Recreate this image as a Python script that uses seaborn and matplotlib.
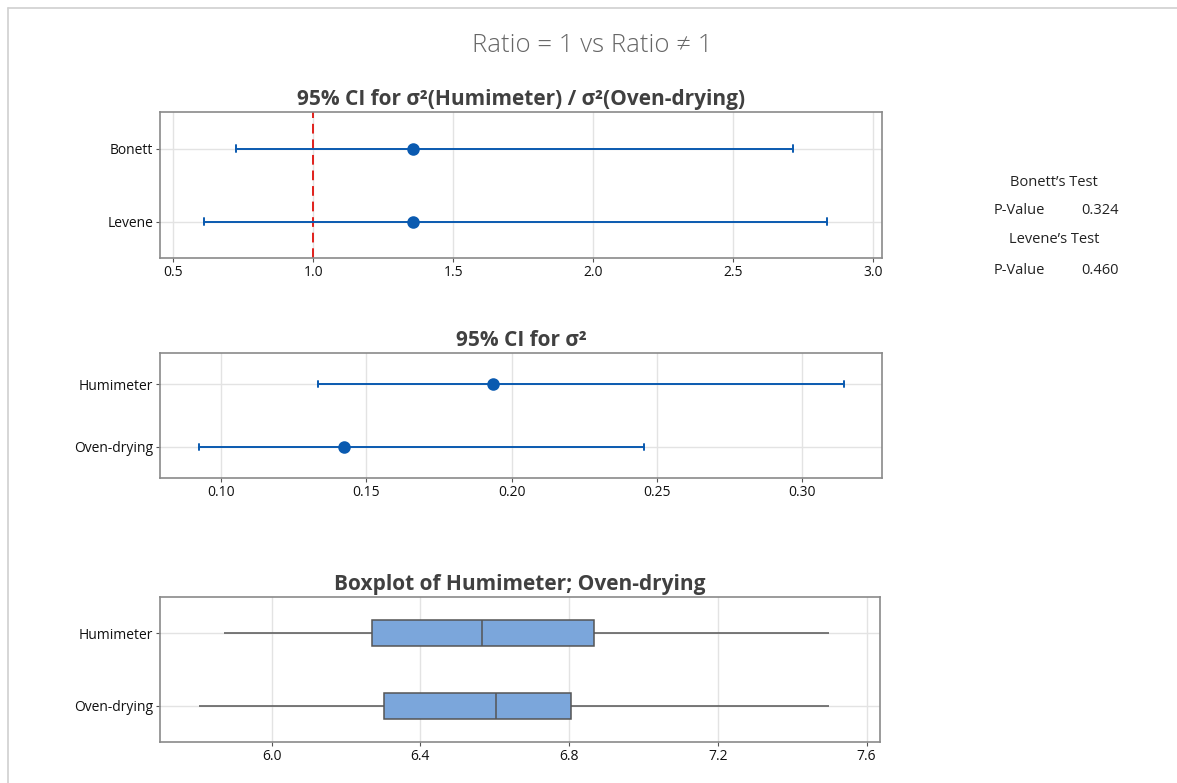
import numpy as np
import pandas as pd
import matplotlib
matplotlib.use("Agg")
import matplotlib.pyplot as plt
import seaborn as sns
from matplotlib.lines import Line2D

# ---------------- data ----------------
ratio_methods = ["Bonett", "Levene"]
ratio_lower = [0.723, 0.608]
ratio_est = [1.358, 1.358]
ratio_upper = [2.715, 2.835]

var_groups = ["Humimeter", "Oven-drying"]
var_lower = [0.1336, 0.0926]
var_est = [0.1937, 0.1425]
var_upper = [0.3144, 0.2455]

box_groups = ["Humimeter", "Oven-drying"]
box_min = [5.873, 5.806]
box_q1 = [6.269, 6.302]
box_median = [6.567, 6.604]
box_q3 = [6.866, 6.804]
box_max = [7.500, 7.500]

ratio_ticks = [0.5, 1.0, 1.5, 2.0, 2.5, 3.0]
var_ticks = [0.10, 0.15, 0.20, 0.25, 0.30]
box_ticks = [6.0, 6.4, 6.8, 7.2, 7.6]

bonett_p = 0.324
levene_p = 0.460

main_title = "Ratio = 1 vs Ratio \u2260 1"
title1 = "95% CI for \u03c3\u00b2(Humimeter) / \u03c3\u00b2(Oven-drying)"
title2 = "95% CI for \u03c3\u00b2"
title3 = "Boxplot of Humimeter; Oven-drying"

# ---------------- style ----------------
sns.set_theme(style="white")
plt.rcParams["font.family"] = ["Open Sans", "DejaVu Sans"]

BLUE = "#0A5AB0"
BOXFILL = "#7BA6DB"
GRID = "#E3E3E3"
SPINE = "#8A8A8A"
TITLE_C = "#404040"

W, H = 1177, 783
fig = plt.figure(figsize=(W / 100, H / 100), dpi=100)


def px_axes(left, top, right, bottom):
    return fig.add_axes([left / W, 1 - bottom / H, (right - left) / W, (bottom - top) / H])


def style_axes(ax, ticks, xlim):
    ax.set_xlim(*xlim)
    ax.set_ylim(1.5, -0.5)
    ax.set_xticks(ticks)
    ax.set_xlabel("")
    ax.set_ylabel("")
    ax.grid(True, axis="both", color=GRID, linewidth=1.0)
    ax.set_axisbelow(True)
    for s in ax.spines.values():
        s.set_visible(True)
        s.set_color(SPINE)
        s.set_linewidth(1.2)
    ax.tick_params(axis="both", which="both", direction="out", length=3, width=0.8,
                   color="#555555", labelsize=10, labelcolor="#111111", pad=2,
                   bottom=True, left=True)


def ci_frame(names, lo, est, hi):
    rows = []
    for n, a, b, c in zip(names, lo, est, hi):
        for v in (a, b, c):
            rows.append({"name": n, "value": v})
    return pd.DataFrame(rows)


def draw_ci(ax, names, lo, est, hi):
    df = ci_frame(names, lo, est, hi)
    sns.pointplot(data=df, x="value", y="name", order=names, estimator="median",
                  errorbar=lambda v: (np.min(v), np.max(v)), capsize=0.1,
                  linestyle="none", color=BLUE, marker="o", markersize=7,
                  err_kws={"linewidth": 1.4}, ax=ax)


# --- top: ratio CI ---
ax1 = px_axes(160, 112, 882, 258)
draw_ci(ax1, ratio_methods, ratio_lower, ratio_est, ratio_upper)
ax1.axvline(1.0, color="#E0201B", linestyle=(0, (5, 3)), linewidth=1.4, zorder=1)
style_axes(ax1, ratio_ticks, (0.452, 3.033))
ax1.set_xticklabels([f"{t:.1f}" for t in ratio_ticks])
ax1.set_title(title1, fontsize=15, fontweight="bold", color=TITLE_C, pad=5)

# --- middle: variance CI ---
ax2 = px_axes(160, 353, 882, 478)
draw_ci(ax2, var_groups, var_lower, var_est, var_upper)
style_axes(ax2, var_ticks, (0.0791, 0.3274))
ax2.set_xticklabels([f"{t:.2f}" for t in var_ticks])
ax2.set_title(title2, fontsize=15, fontweight="bold", color=TITLE_C, pad=5)

# --- bottom: boxplot ---
ax3 = px_axes(160, 597, 880, 742)
rows = []
for g, a, b, c, d, e in zip(box_groups, box_min, box_q1, box_median, box_q3, box_max):
    for v in (a, b, c, d, e):
        rows.append({"group": g, "value": v})
bdf = pd.DataFrame(rows)
sns.boxplot(data=bdf, x="value", y="group", order=box_groups, whis=(0, 100),
            width=0.36, color=BOXFILL, saturation=1, linecolor="#555555",
            linewidth=1.1, showcaps=False, showfliers=False, ax=ax3)
style_axes(ax3, box_ticks, (5.70, 7.636))
ax3.set_xticklabels([f"{t:.1f}" for t in box_ticks])
ax3.set_title(title3, fontsize=15, fontweight="bold", color=TITLE_C, pad=5)

# --- main title ---
fig.text(592 / W, 1 - 45 / H, main_title, ha="center", va="center",
         fontsize=18.5, color="#666666", fontweight="light")

# --- test results ---
tc = "#222222"
fs = 10.5
fig.text(1054 / W, 1 - 182 / H, "Bonett\u2019s Test", ha="center", va="center", fontsize=fs, color=tc)
fig.text(994 / W, 1 - 210 / H, "P-Value", ha="left", va="center", fontsize=fs, color=tc)
fig.text(1119 / W, 1 - 210 / H, f"{bonett_p:.3f}", ha="right", va="center", fontsize=fs, color=tc)
fig.text(1054 / W, 1 - 240 / H, "Levene\u2019s Test", ha="center", va="center", fontsize=fs, color=tc)
fig.text(994 / W, 1 - 270 / H, "P-Value", ha="left", va="center", fontsize=fs, color=tc)
fig.text(1119 / W, 1 - 270 / H, f"{levene_p:.3f}", ha="right", va="center", fontsize=fs, color=tc)

# --- outer frame lines ---
fig.add_artist(Line2D([8 / W, 1], [1 - 8 / H, 1 - 8 / H], transform=fig.transFigure,
                      color="#D0D0D0", linewidth=1.2))
fig.add_artist(Line2D([8 / W, 8 / W], [0, 1 - 8 / H], transform=fig.transFigure,
                      color="#D0D0D0", linewidth=1.2))

fig.savefig("out.png", dpi=100)
